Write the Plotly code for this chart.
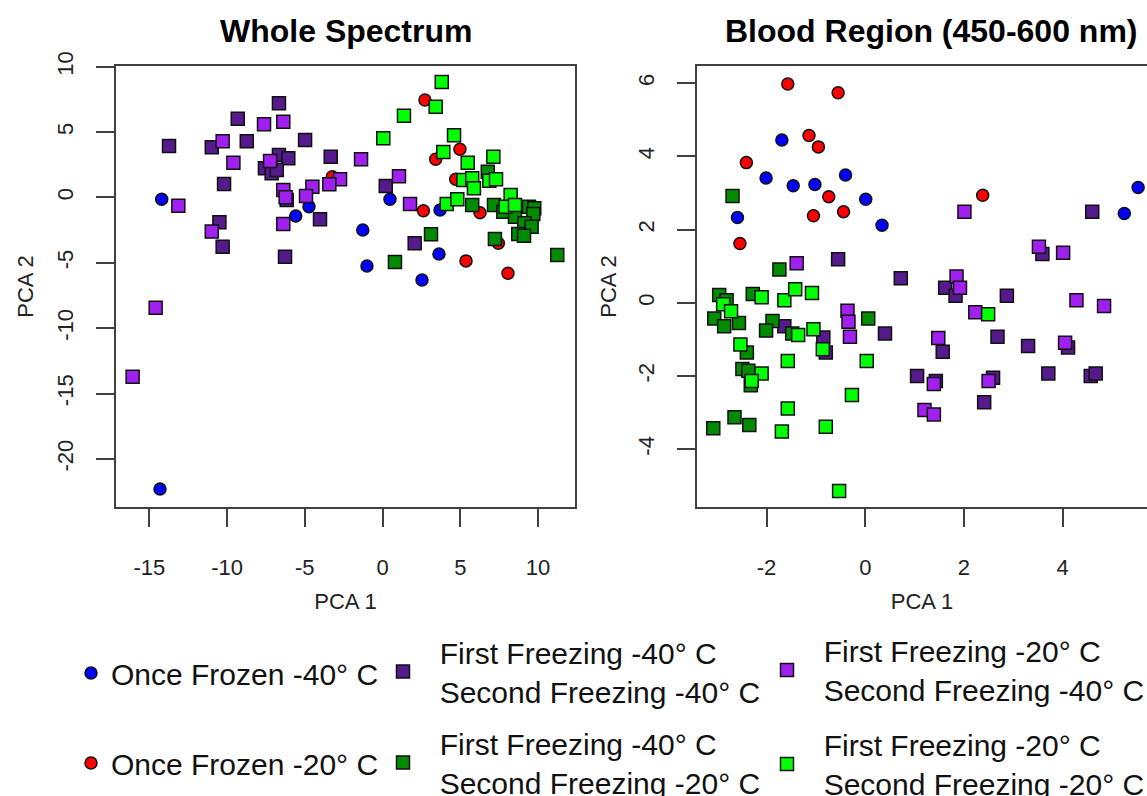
import plotly.graph_objects as go

# ---------------- data: Whole Spectrum (PCA 1, PCA 2) ----------------
ws_once40_x = [-14.20, -14.31, -4.73, -5.58, 0.48, 3.70, -1.27, -1.00, 3.63, 2.54]
ws_once40_y = [-0.14, -22.30, -0.70, -1.42, -0.14, -0.96, -2.49, -5.24, -4.32, -6.31]

ws_once20_x = [2.73, 4.98, 3.42, 4.71, -3.23, 2.63, 6.27, 7.45, 5.37, 8.07]
ws_once20_y = [7.46, 3.69, 2.92, 1.39, 1.59, -1.01, -1.16, -3.50, -4.85, -5.80]

ws_f40s40_x = [-6.66, -9.31, -13.73, -10.98, -8.73, -4.98, -3.33, -6.66, -6.06, -7.56,
               -7.13, -6.80, -10.19, -6.16, -4.02, -10.49, -10.28, -6.27, 0.21, 2.07]
ws_f40s40_y = [7.21, 6.03, 3.94, 3.84, 4.30, 4.40, 3.12, 3.25, 3.00, 2.23,
               1.85, 2.10, 1.03, -0.19, -1.67, -1.90, -3.76, -4.53, 0.88, -3.50]

ws_f20s40_x = [-7.62, -6.38, -10.28, -9.59, -7.23, -2.73, -3.42, -4.51, -4.92, -6.38,
               -6.23, -13.13, -10.98, -6.38, -14.59, -16.07, -1.38, 1.06, 1.77]
ws_f20s40_y = [5.60, 5.80, 4.30, 2.66, 2.79, 1.39, 1.01, 0.83, 0.11, 0.57,
               0.02, -0.63, -2.61, -2.03, -8.43, -13.71, 2.92, 1.62, -0.50]

ws_f40s20_x = [6.77, 5.77, 7.17, 7.77, 8.52, 9.42, 9.76, 9.70, 9.12, 9.59,
               8.73, 9.10, 3.12, 7.23, 11.24, 0.80]
ws_f40s20_y = [1.97, -0.57, -0.57, -1.09, -1.47, -0.70, -0.83, -1.26, -1.97, -2.23,
               -2.79, -2.92, -2.82, -3.18, -4.40, -4.93]

ws_f20s20_x = [3.81, 3.42, 1.38, 0.05, 4.60, 3.91, 5.48, 7.13, 4.13, 4.81,
               5.20, 5.77, 5.88, 6.87, 7.30, 8.24, 7.92, 8.52]
ws_f20s20_y = [8.84, 6.95, 6.26, 4.53, 4.76, 3.48, 2.66, 3.12, -0.50, -0.14,
               1.34, 1.47, 0.70, 1.29, 1.39, 0.19, -0.70, -0.57]

# ---------------- data: Blood Region (450-600 nm) ----------------
br_once40_x = [-1.69, -2.01, -1.46, -1.02, -0.40, 0.01, 0.34, -2.59, 5.25, 5.53]
br_once40_y = [4.45, 3.41, 3.20, 3.23, 3.49, 2.83, 2.12, 2.33, 2.44, 3.15]

br_once20_x = [-1.57, -0.55, -1.14, -0.95, -2.41, -0.74, -1.05, -0.44, -2.54, 2.38]
br_once20_y = [5.98, 5.74, 4.57, 4.26, 3.83, 2.90, 2.38, 2.49, 1.62, 2.94]

br_f40s40_x = [-0.55, 0.72, 4.60, 3.59, 1.62, 1.83, 2.87, 1.57, 2.68, 3.30, 4.11,
               1.05, 1.43, 2.59, 3.71, 4.57, 4.67, 2.41, -1.64, -0.85, -0.80, 0.40]
br_f40s40_y = [1.19, 0.67, 2.49, 1.33, 0.41, 0.19, 0.19, -1.34, -0.93, -1.18, -1.22,
               -2.00, -2.14, -2.05, -1.93, -2.00, -1.93, -2.72, -0.64, -0.95, -1.36, -0.84]

br_f20s40_x = [-1.39, 2.01, 3.52, 4.01, 1.85, 1.92, 4.28, 4.84, 2.23, 1.48, 4.05,
               1.39, 2.50, 1.20, 1.39, -0.36, -0.34, -0.31]
br_f20s40_y = [1.08, 2.49, 1.53, 1.37, 0.72, 0.41, 0.07, -0.09, -0.26, -0.96, -1.09,
               -2.22, -2.14, -2.93, -3.05, -0.22, -0.52, -0.93]

br_f40s20_x = [-2.69, -1.74, -2.96, -2.81, -3.06, -2.86, -2.56, -2.28, -1.88, -2.01,
               -1.48, 0.06, -2.40, -2.49, -2.37, -2.32, -2.65, -3.08, -2.35]
br_f40s20_y = [2.92, 0.91, 0.21, 0.07, -0.43, -0.64, -0.55, 0.24, -0.50, -0.76,
               -0.84, -0.43, -1.36, -1.81, -1.86, -2.25, -3.13, -3.43, -3.34]

br_f20s20_x = [-2.88, -2.72, -2.10, -1.64, -1.42, -1.08, -1.36, -1.05, -0.86, -2.53,
               -1.57, 0.03, -2.10, -2.30, -0.27, -1.57, -1.69, -0.80, -0.53, 2.49]
br_f20s20_y = [-0.04, -0.23, 0.15, 0.07, 0.37, 0.27, -0.88, -0.72, -1.27, -1.14,
               -1.59, -1.59, -1.93, -2.14, -2.52, -2.89, -3.52, -3.39, -5.14, -0.31]

# ---------------- tick labels ----------------
ws_xticks = [-15, -10, -5, 0, 5, 10]
ws_xticklabels = ["-15", "-10", "-5", "0", "5", "10"]
ws_yticks = [-20, -15, -10, -5, 0, 5, 10]
ws_yticklabels = ["-20", "-15", "-10", "-5", "0", "5", "10"]
br_xticks = [-2, 0, 2, 4]
br_xticklabels = ["-2", "0", "2", "4"]
br_yticks = [-4, -2, 0, 2, 4, 6]
br_yticklabels = ["-4", "-2", "0", "2", "4", "6"]

group_names = [
    "Once Frozen -40° C",
    "Once Frozen -20° C",
    "First Freezing -40° C<br>Second Freezing -40° C",
    "First Freezing -20° C<br>Second Freezing -40° C",
    "First Freezing -40° C<br>Second Freezing -20° C",
    "First Freezing -20° C<br>Second Freezing -20° C",
]
group_colors = ["#0000FF", "#FF0000", "#551A8B", "#A020F0", "#008B00", "#00FF00"]
group_symbols = ["circle", "circle", "square", "square", "square", "square"]
group_legends = ["legend", "legend", "legend2", "legend3", "legend2", "legend3"]

ws_data = [(ws_once40_x, ws_once40_y), (ws_once20_x, ws_once20_y),
           (ws_f40s40_x, ws_f40s40_y), (ws_f20s40_x, ws_f20s40_y),
           (ws_f40s20_x, ws_f40s20_y), (ws_f20s20_x, ws_f20s20_y)]
br_data = [(br_once40_x, br_once40_y), (br_once20_x, br_once20_y),
           (br_f40s40_x, br_f40s40_y), (br_f20s40_x, br_f20s40_y),
           (br_f40s20_x, br_f40s20_y), (br_f20s20_x, br_f20s20_y)]

FONT = "Arial, 'Liberation Sans', sans-serif"
NB = "\u00a0\u00a0"

fig = go.Figure()
for i in range(6):
    name = group_names[i]
    if group_legends[i] != "legend":
        name = "<br>".join(NB + part for part in name.split("<br>"))
    sz = 12 if group_symbols[i] == "circle" else 13
    for panel, data in ((1, ws_data), (2, br_data)):
        x, y = data[i]
        fig.add_trace(go.Scatter(
            x=x, y=y, mode="markers",
            name=name,
            legend=group_legends[i],
            legendgroup="g%d" % i,
            showlegend=(panel == 1),
            xaxis="x" if panel == 1 else "x2",
            yaxis="y" if panel == 1 else "y2",
            marker=dict(symbol=group_symbols[i], size=sz, color=group_colors[i],
                        line=dict(color="#111111", width=1.5)),
        ))

W, H = 1147, 796
def px_x(p):
    return p / W
def px_y(p):
    return 1 - p / H

axis_common = dict(
    showgrid=False, zeroline=False, showline=True, linecolor="#404040", linewidth=2,
    ticks="outside", ticklen=18, tickwidth=2, tickcolor="#404040", automargin=False,
    tickfont=dict(family=FONT, size=22, color="#222222"),
)
title_font = dict(family=FONT, size=22, color="#222222")
legend_font = dict(family=FONT, size=30, color="#111111")

fig.update_layout(
    width=W, height=H,
    margin=dict(l=0, r=0, t=0, b=0, autoexpand=False),
    paper_bgcolor="white", plot_bgcolor="white",
    font=dict(family=FONT, color="#222222"),
    xaxis=dict(domain=[px_x(116), px_x(575)], range=[-17.14, 12.38], anchor="y",
               tickvals=ws_xticks, ticktext=ws_xticklabels, mirror=True, ticklabelstandoff=22,
               title=dict(text="PCA 1", font=title_font, standoff=14),
               **axis_common),
    yaxis=dict(domain=[px_y(507), px_y(66)], range=[-23.68, 10.06], anchor="x",
               tickvals=ws_yticks, ticktext=ws_yticklabels, mirror=True, tickangle=-90,
               ticklabelstandoff=14,
               title=dict(text="PCA 2", font=title_font, standoff=14),
               **axis_common),
    xaxis2=dict(domain=[px_x(697), 1.0], range=[-3.41, 5.71], anchor="y2",
                tickvals=br_xticks, ticktext=br_xticklabels, mirror=True, ticklabelstandoff=22,
                title=dict(text="PCA 1", font=title_font, standoff=14),
                **axis_common),
    yaxis2=dict(domain=[px_y(507), px_y(66)], range=[-5.58, 6.47], anchor="x2",
                tickvals=br_yticks, ticktext=br_yticklabels, mirror=False, tickangle=-90,
                ticklabelstandoff=14,
                title=dict(text="PCA 2", font=title_font, standoff=12),
                **axis_common),
    legend=dict(x=px_x(71), y=px_y(647), xanchor="left", yanchor="top",
                bgcolor="rgba(0,0,0,0)", font=legend_font,
                tracegroupgap=48, itemclick=False),
    legend2=dict(x=px_x(383), y=px_y(626), xanchor="left", yanchor="top",
                 bgcolor="rgba(0,0,0,0)", font=legend_font,
                 tracegroupgap=10, itemclick=False),
    legend3=dict(x=px_x(767), y=px_y(624.5), xanchor="left", yanchor="top",
                 bgcolor="rgba(0,0,0,0)", font=legend_font,
                 tracegroupgap=13, itemclick=False),
    annotations=[
        dict(text="<b>Whole Spectrum</b>", x=(px_x(116) + px_x(575)) / 2, y=px_y(31),
             xref="paper", yref="paper", showarrow=False, xanchor="center", yanchor="middle",
             font=dict(family=FONT, size=32, color="#000000")),
        dict(text="<b>Blood Region (450-600 nm)</b>", x=px_x(931), y=px_y(31),
             xref="paper", yref="paper", showarrow=False, xanchor="center", yanchor="middle",
             font=dict(family=FONT, size=32, color="#000000")),
    ],
)

fig.write_html("out.html")
